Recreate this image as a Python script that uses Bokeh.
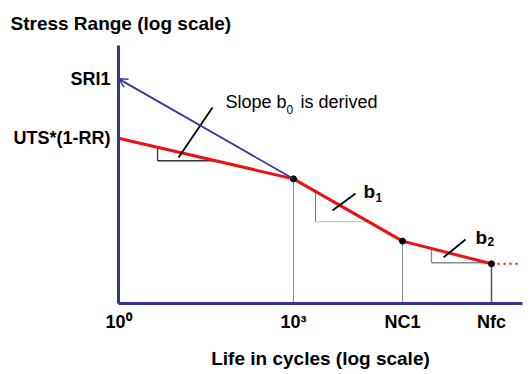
import numpy as np
from bokeh.plotting import figure
from bokeh.models import (Range1d, FixedTicker, Label, Arrow, OpenHead, Title)
from bokeh.embed import file_html
from bokeh.resources import INLINE

# ---- data (schematic S-N curve, log-log) ----
cycles = [1.0, 1.0e3, 7.4e4, 2.48e6]          # 10^0, 10^3, NC1, Nfc
stress = [670.0, 420.0, 205.0, 158.0]         # stress range at each knot
tick_labels = ["10\u2070", "10\u00b3", "NC1", "Nfc"]
sri1 = 1330.0                                 # SRI1 intercept at 10^0
runout_end = 8.1e6                            # dotted run-out beyond Nfc
x_lo, x_hi = 1.0, 8.43e6
y_lo, y_hi = 100.0, 1950.0

# slope-triangle extents (cycles)
tri_b0 = [4.67, 46.0]
tri_b1 = [2384.0, 19300.0]
tri_b2 = [2.32e5, 2.12e6]

# leader lines (cycles, stress)
lead_x = [[40.9, 10.7], [11560.0, 4666.0], [8.89e5, 3.73e5]]
lead_y = [[955.0, 537.0], [355.0, 292.0], [209.0, 170.0]]

# annotation anchors (cycles, stress)
slope_anchor = (68.3, 944.0)
b1_anchor = (15850.0, 335.0)
b2_anchor = (1.32e6, 197.0)

FONT = "Liberation Sans"
RED = "#ee1111"
BLUE = "#33339a"
THIN_BLUE = "#3c3ca0"


def curve_at(n):
    return 10 ** np.interp(np.log10(n), np.log10(cycles), np.log10(stress))


p = figure(width=530, height=374, x_axis_type="log", y_axis_type="log",
           x_range=Range1d(x_lo, x_hi), y_range=Range1d(y_lo, y_hi),
           output_backend="svg", toolbar_location=None,
           min_border_left=118, min_border_right=8, min_border_top=45,
           min_border_bottom=71)
p.grid.visible = False
p.outline_line_color = None
p.background_fill_color = "white"
p.border_fill_color = "white"

# title (top-left, horizontal)
p.title = Title(text="Stress Range (log scale)", align="left", offset=-108,
                standoff=20, vertical_align="top", text_font=FONT,
                text_font_style="bold", text_font_size="19px", text_color="black")

# x axis
p.xaxis.ticker = FixedTicker(ticks=cycles)
p.xaxis.major_label_overrides = dict(zip(cycles, tick_labels))
p.xaxis.axis_line_color = BLUE
p.xaxis.axis_line_width = 3
p.xaxis.major_tick_line_color = None
p.xaxis.minor_tick_line_color = None
p.xaxis.major_tick_out = 0
p.xaxis.major_label_standoff = 8
p.xaxis.major_label_text_font = FONT
p.xaxis.major_label_text_font_style = "bold"
p.xaxis.major_label_text_font_size = "18px"
p.xaxis.major_label_text_color = "black"
p.xaxis.axis_label = "Life in cycles (log scale)"
p.xaxis.axis_label_standoff = 13
p.xaxis.axis_label_text_font = FONT
p.xaxis.axis_label_text_font_style = "bold"
p.xaxis.axis_label_text_font_size = "19px"
p.xaxis.axis_label_text_color = "black"

# y axis
p.yaxis.ticker = FixedTicker(ticks=[stress[0], sri1])
p.yaxis.major_label_overrides = {stress[0]: "UTS*(1-RR)", sri1: "SRI1"}
p.yaxis.axis_line_color = BLUE
p.yaxis.axis_line_width = 3
p.yaxis.major_tick_line_color = None
p.yaxis.minor_tick_line_color = None
p.yaxis.major_tick_out = 0
p.yaxis.major_label_standoff = 8
p.yaxis.major_label_text_font = FONT
p.yaxis.major_label_text_font_style = "bold"
p.yaxis.major_label_text_font_size = "18px"
p.yaxis.major_label_text_color = "black"

# drop lines from knots 10^3, NC1, Nfc
for i in (1, 2):
    p.segment(x0=cycles[i], y0=stress[i], x1=cycles[i], y1=y_lo,
              line_color="#8a8a8a", line_width=1)
p.segment(x0=cycles[3], y0=stress[3], x1=cycles[3], y1=y_lo,
          line_color="#555555", line_width=1.5)


# slope triangles
def triangle(ext, color, width, hdash="solid"):
    x1, x2 = ext
    ya, yb = curve_at(x1), curve_at(x2)
    p.segment(x0=x1, y0=ya, x1=x1, y1=yb, line_color=color, line_width=width)
    p.segment(x0=x1, y0=yb, x1=x2, y1=yb, line_color=color, line_width=width,
              line_dash=hdash)


triangle(tri_b0, "#333333", 1.3)
triangle(tri_b1, "#777777", 1, "1 1")
triangle(tri_b2, "#888888", 1.3)

# SRI1 line (blue, with arrow head)
p.line([cycles[0], cycles[1]], [sri1, stress[1]], line_color=THIN_BLUE, line_width=1.5)
p.add_layout(Arrow(end=OpenHead(size=9, line_color=THIN_BLUE, line_width=1.5),
                   x_start=cycles[1], y_start=stress[1], x_end=cycles[0], y_end=sri1,
                   line_color=THIN_BLUE, line_width=1.5))

# S-N curve
p.line(cycles, stress, line_color=RED, line_width=3)
p.line([cycles[-1], runout_end], [stress[-1], stress[-1]], line_color=RED,
       line_width=2, line_dash="2 4")
p.scatter(cycles[1:], stress[1:], size=6, fill_color="black", line_color="black")

# leader lines
p.multi_line(lead_x, lead_y, line_color="black", line_width=1.8)


def lab(x, y, text, size, bold=False, dx=0, dy=0):
    p.add_layout(Label(x=x, y=y, text=text, x_offset=dx, y_offset=dy,
                       text_align="left", text_baseline="alphabetic",
                       text_font=FONT, text_font_size=size,
                       text_font_style="bold" if bold else "normal",
                       text_color="black"))


# slope annotations
lab(*slope_anchor, "Slope b", "18px", dy=7)
lab(*slope_anchor, "0", "12px", dx=61, dy=-1)
lab(*slope_anchor, "is derived", "18px", dx=75, dy=7)
lab(*b1_anchor, "b", "19px", bold=True, dy=7)
lab(*b1_anchor, "1", "12px", bold=True, dx=12, dy=1)
lab(*b2_anchor, "b", "19px", bold=True, dy=7)
lab(*b2_anchor, "2", "12px", bold=True, dx=12, dy=3)

open("out.html", "w").write(file_html(p, INLINE))
